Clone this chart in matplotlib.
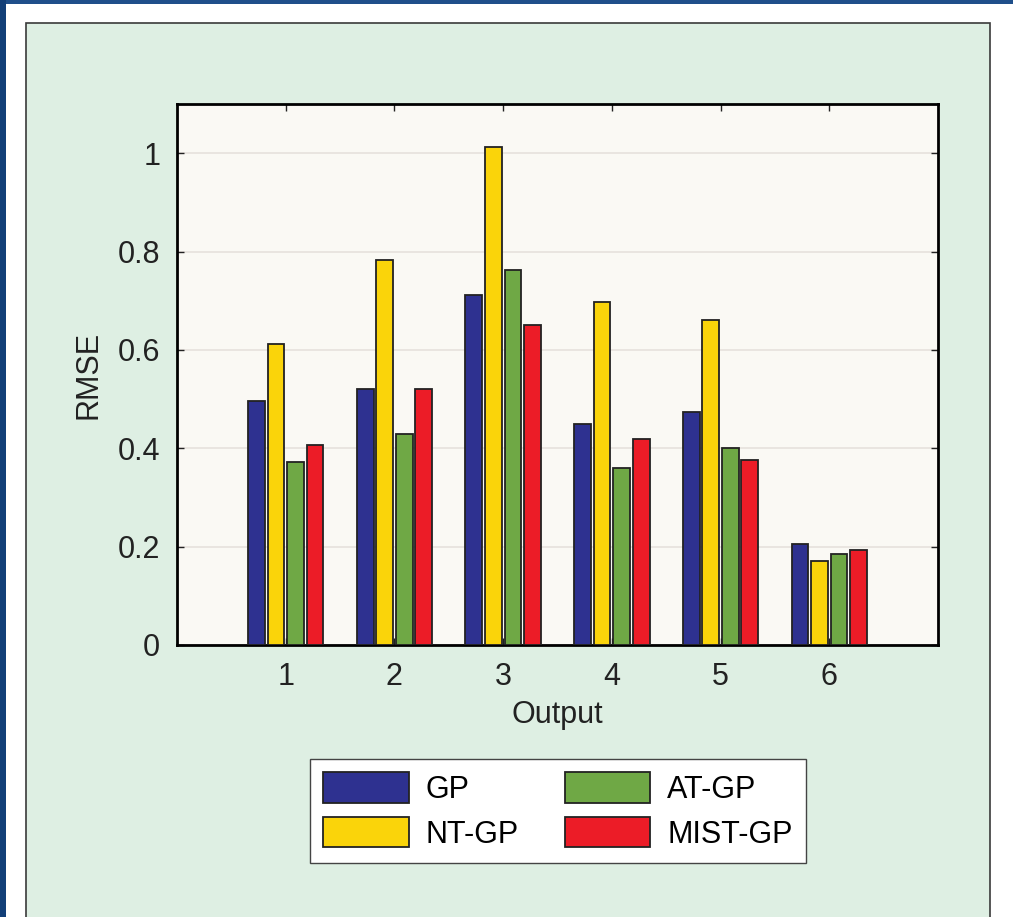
import matplotlib
matplotlib.use("Agg")
import matplotlib.pyplot as plt
from matplotlib.patches import Rectangle
import numpy as np

plt.rcParams['font.family'] = ['Liberation Sans', 'DejaVu Sans']

outputs = [1, 2, 3, 4, 5, 6]
series = ['GP', 'NT-GP', 'AT-GP', 'MIST-GP']
gp = [0.496, 0.520, 0.712, 0.450, 0.473, 0.205]
nt_gp = [0.612, 0.782, 1.012, 0.697, 0.660, 0.170]
at_gp = [0.372, 0.430, 0.762, 0.360, 0.401, 0.185]
mist_gp = [0.407, 0.520, 0.650, 0.418, 0.377, 0.193]
colors = ['#2e3190', '#fad40a', '#6fa845', '#ec1c27']

fig = plt.figure(figsize=(10.13, 9.17), dpi=100)
fig.patch.set_facecolor('white')

# page decoration: blue strips and green panel (behind the axes)
for r in [Rectangle((0, 0.996), 1, 0.004, facecolor='#1f4f8a', edgecolor='none'),
          Rectangle((0, 0), 0.006, 1, facecolor='#123f78', edgecolor='none'),
          Rectangle((26 / 1013, -0.01), (990 - 26) / 1013, 1.01 - 23 / 917,
                    facecolor='#deefe3', edgecolor='#3a3a3a', linewidth=1.2)]:
    r.set_transform(fig.transFigure)
    r.set_zorder(-5)
    fig.patches.append(r)

ax = fig.add_axes([177 / 1013, 1 - 645 / 917, (938 - 177) / 1013, (645 - 104) / 917])
ax.set_facecolor('#faf9f4')

x = np.array(outputs)
width = 0.155
offsets = [-0.27, -0.09, 0.09, 0.27]
for vals, name, c, off in zip([gp, nt_gp, at_gp, mist_gp], series, colors, offsets):
    ax.bar(x + off, vals, width, color=c, edgecolor='#222222', linewidth=1.3,
           label=name, zorder=3)

ax.set_xlim(0, 7)
ax.set_ylim(0, 1.1)
ax.set_xticks(outputs)
ax.set_yticks([0, 0.2, 0.4, 0.6, 0.8, 1.0])
ax.set_yticklabels(['0', '0.2', '0.4', '0.6', '0.8', '1'])
ax.yaxis.grid(True, color='#e6e2dc', linewidth=1.2, zorder=0)
ax.tick_params(direction='in', length=5, width=1, top=True, right=True,
               labelsize=22, colors='#222222', pad=12)
for s in ax.spines.values():
    s.set_linewidth(2)
    s.set_color('black')
ax.set_xlabel('Output', fontsize=22, color='#222222', labelpad=6)
ax.set_ylabel('RMSE', fontsize=22, color='#222222', labelpad=10)

fig.legend(loc='center', bbox_to_anchor=(558 / 1013, 1 - 811 / 917), ncol=2,
           fontsize=22, frameon=True, fancybox=False, edgecolor='#444444',
           facecolor='white', framealpha=1, handlelength=2.8, handleheight=1.15,
           handletextpad=0.55, columnspacing=1.5, labelspacing=0.4,
           borderpad=0.45)

fig.savefig('out.png', dpi=100)
